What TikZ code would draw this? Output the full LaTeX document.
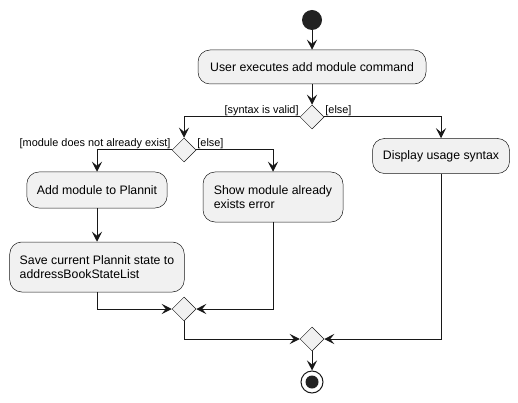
\documentclass[tikz,border=0pt]{standalone}
\usepackage{fontspec}
\setmainfont{Liberation Sans}
\usetikzlibrary{shapes.geometric,arrows.meta}
\definecolor{boxfill}{HTML}{F1F1F1}
\definecolor{ink}{HTML}{181818}
\definecolor{dot}{HTML}{222222}
\begin{document}
\begin{tikzpicture}[x=1pt,y=-1pt,
  act/.style={draw=ink,line width=0.5pt,fill=boxfill,rounded corners=12pt,
    inner xsep=10pt,inner ysep=4pt,align=left,font=\fontsize{12.3}{14}\selectfont},
  dia/.style={draw=ink,line width=0.5pt,fill=boxfill,diamond,minimum width=24pt,
    minimum height=24pt,inner sep=0pt},
  arr/.style={draw=ink,line width=1pt,-{Stealth[length=10pt,width=10pt,inset=4pt]}},
  ln/.style={draw=ink,line width=1pt},
  lbl/.style={font=\fontsize{10.9}{12}\selectfont,inner sep=1pt}]
\useasboundingbox (0,0) rectangle (518,403);

\node[circle,fill=dot,minimum size=20pt,inner sep=0pt] (start) at (312,20) {};
\node[act,minimum width=228pt,minimum height=34pt] (a1) at (312,67) {User executes add module command};
\node[dia] (d1) at (312,117) {};
\node[dia] (d2) at (184,150) {};
\node[act,minimum width=137pt,minimum height=35pt] (disp) at (441,156) {Display usage syntax};
\node[act,minimum width=140pt,minimum height=36pt] (add) at (97,190) {Add module to Plannit};
\node[act,minimum width=140pt,minimum height=50pt] (show) at (273,197) {Show module already\\exists error};
\node[act,minimum width=171pt,minimum height=50pt] (save) at (97,267) {Save current Plannit state to\\addressBookStateList};
\node[dia] (d3) at (184,309) {};
\node[dia] (d4) at (312,339) {};
\node[circle,draw=ink,line width=1pt,fill=white,minimum size=22pt,inner sep=0pt] (end) at (312,382) {};
\node[circle,fill=dot,minimum size=13pt,inner sep=0pt] (endin) at (end.center) {};

\node[lbl,anchor=south east] (l1) at (d1.west) {[syntax is valid]};
\node[lbl,anchor=south west] (l2) at (d1.east) {[else]};
\node[lbl,anchor=south east] (l3) at (d2.west) {[module does not already exist]};
\node[lbl,anchor=south west] (l4) at (d2.east) {[else]};

\draw[arr] (start) -- (a1);
\draw[arr] (a1) -- (d1);
\draw[arr] (d1.west) -| (d2.north);
\draw[arr] (d1.east) -| (disp.north);
\draw[arr] (d2.west) -| (add.north);
\draw[arr] (d2.east) -| (show.north);
\draw[arr] (add) -- (save);
\draw[arr] (save.south) |- (d3.west);
\draw[arr] (show.south) |- (d3.east);
\draw[arr] (d3.south) |- (d4.west);
\draw[arr] (disp.south) |- (d4.east);
\draw[arr] (d4) -- (end);
\end{tikzpicture}
\end{document}
